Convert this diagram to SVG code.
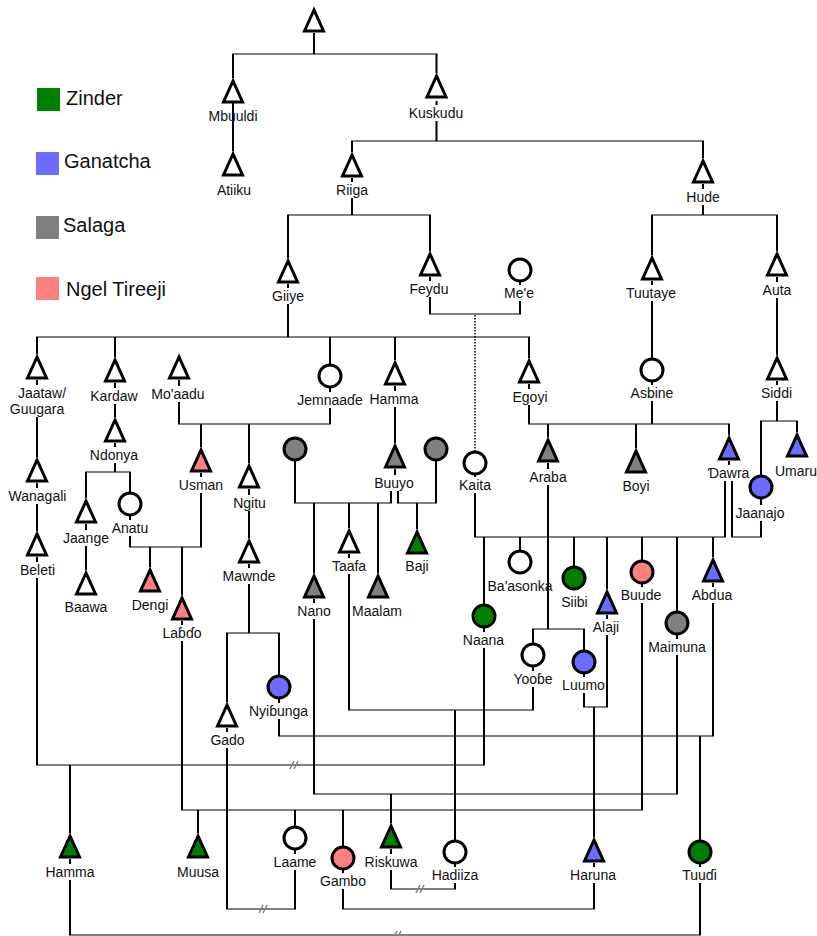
<svg xmlns="http://www.w3.org/2000/svg" xmlns:xlink="http://www.w3.org/1999/xlink" width="817" height="936" viewBox="0 0 817 936">
<style>
.w{fill:#fff;stroke:#000;stroke-width:3}
.gr{fill:#008000;stroke:#000;stroke-width:3}
.bl{fill:#6b6bff;stroke:#000;stroke-width:3}
.sl{fill:#808080;stroke:#000;stroke-width:3}
.pk{fill:#ff8080;stroke:#000;stroke-width:3}
text{font-family:"Liberation Sans",Arial,sans-serif;font-size:14px;fill:#111;text-anchor:middle}
.lg{font-size:20px;text-anchor:start}
.v{fill:none;stroke:#000;stroke-width:2}
.h{fill:none;stroke:#808080;stroke-width:2;stroke-linecap:square}
.d{fill:none;stroke:#000;stroke-width:1.5;stroke-dasharray:1.5 1.5}
.hs{fill:none;stroke:#808080;stroke-width:1.5}
</style>
<defs>
<polygon id="t" points="0,3 -9.5,24 9.5,24"/>
<path id="hash" d="M-6,4L-2,-4M-2,4L2,-4"/>
</defs>
<rect width="817" height="936" fill="#fff"/>
<g id="legend">
<rect x="37" y="88" width="23" height="23" fill="#008000"/><text class="lg" x="66" y="105">Zinder</text>
<rect x="36" y="152" width="23" height="23" fill="#6b6bff"/><text class="lg" x="64" y="168">Ganatcha</text>
<rect x="36" y="216" width="23" height="23" fill="#808080"/><text class="lg" x="63" y="232">Salaga</text>
<rect x="36" y="277" width="23" height="23" fill="#ff8080"/><text class="lg" x="66" y="296">Ngel Tireeji</text>
</g>
<g id="connectors">
<path class="h" d="M233 54H436.5M352 141H703M288 215H430M652 215H777M37 337H529M430 314H520M86 472H130M130 547H201M179 424H330M227 633H279M227 909H295M182 810H642M279 736H713M70 935H700M37 765H484M295 503H391M398 503H436M349 710H533M314 794H677M391 889H455M343 909H594M584 707H607M475 537H725M732 537H761M529 424H729M533 629H584M761 421H797"/>
<path class="v" d="M314 33V54M233 54V78M436.5 54V73M233 103V151M436.5 101V105M436.5 121V141M352 141V152M703 141V158M352 178V182M352 198V215M288 215V258M430 215V251M703 184V189M703 205V215M652 215V255M777 215V251M288 284V288M288 304V337M37 337V354M115 337V357M330 337V365M395 337V360M529 337V358M430 277V281M430 297V314M520 281.5V285M520 301V314M652 281V285M652 301V359M777 277V282M777 298V355M37 380V385M37 417V457M37 483V488M37 504V531M37 557V562M37 578V765M115 383V388M115 404V417M115 443V447M115 463V472M86 472V498M130 472V493M86 524V530M86 546V570M130 515.5V520M130 536V547M201 473V477M201 493V547M150 547V567M182 547V595M179 380V386M179 402V424M330 387.5V392M330 408V424M201 424V447M249 424V463M249 489V495M249 511V538M249 564V568M249 584V633M227 633V702M279 633V676M227 728V732M227 748V909M295 849.5V854M295 870V909M182 621V625M182 641V810M198 810V833M295 810V827M343 810V847M642 583.5V587M642 603V810M279 698.5V703M279 719V736M713 583V587M713 603V736M700 736V841M700 863.5V867M700 883V935M70 765V833M70 859V864M70 880V935M484 627.5V632M484 648V765M395 386V391M395 407V443M395 469V475M391 491V503M398 491V503M295 460.5V503M436 460.5V503M314 503V573M349 503V528M378 503V573M417 503V529M349 554V558M349 574V710M533 666.5V671M533 687V710M455 710V841M314 599V603M314 619V794M677 634.5V639M677 655V794M391 794V823M391 849V854M391 870V889M455 863.5V867M455 883V889M343 869.5V873M343 889V909M594 863V867M594 883V909M594 707V837M584 673.5V677M584 693V707M607 615V619M607 635V707M475 474.5V477M475 493V537M729 461V465M725 481V537M732 481V537M484 537V605M520 537V551M574 537V567M607 537V589M642 537V561M677 537V612M713 537V557M529 384V389M529 405V424M652 381.5V385M652 401V424M548 424V437M636 424V448M729 424V435M548 463V469M548 485V629M533 629V644M584 629V651M761 498.5V505M761 521V537M777 381V385M777 401V421M761 421V476M797 421V432"/>
<path class="d" d="M475 315V451"/>
<use href="#hash" class="hs" x="296" y="765"/>
<use href="#hash" class="hs" x="265" y="909"/>
<use href="#hash" class="hs" x="422" y="889"/>
<use href="#hash" class="hs" x="399" y="935"/>
</g>
<g id="n-root"><use href="#t" class="w" x="314" y="7"/></g>
<g id="n-mbuuldi"><use href="#t" class="w" x="233" y="78"/><text x="233" y="121">Mbuuldi</text></g>
<g id="n-atiiku"><use href="#t" class="w" x="233" y="151"/><text x="234" y="195">Atiiku</text></g>
<g id="n-kuskudu"><use href="#t" class="w" x="436.5" y="73"/><text x="436" y="118">Kuskudu</text></g>
<g id="n-riiga"><use href="#t" class="w" x="352" y="152"/><text x="352" y="195">Riiga</text></g>
<g id="n-hude"><use href="#t" class="w" x="703" y="158"/><text x="703" y="202">Hude</text></g>
<g id="n-giiye"><use href="#t" class="w" x="288" y="258"/><text x="288" y="301">Giiye</text></g>
<g id="n-feydu"><use href="#t" class="w" x="430" y="251"/><text x="429" y="294">Feydu</text></g>
<g id="n-mee"><circle class="w" cx="520" cy="270" r="11"/><text x="519" y="298">Me'e</text></g>
<g id="n-tuutaye"><use href="#t" class="w" x="652" y="255"/><text x="651" y="298">Tuutaye</text></g>
<g id="n-auta"><use href="#t" class="w" x="777" y="251"/><text x="777" y="295">Auta</text></g>
<g id="n-jaataw"><use href="#t" class="w" x="37" y="354"/><text x="42" y="398">Jaataw/</text><text x="37" y="414">Guugara</text></g>
<g id="n-kardaw"><use href="#t" class="w" x="115" y="357"/><text x="114" y="401">Kardaw</text></g>
<g id="n-moaadu"><use href="#t" class="w" x="179" y="354"/><text x="178" y="399">Mo'aadu</text></g>
<g id="n-jemnaade"><circle class="w" cx="330" cy="376" r="11"/><text x="330" y="405">Jemnaaɗe</text></g>
<g id="n-hamma1"><use href="#t" class="w" x="395" y="360"/><text x="394" y="404">Hamma</text></g>
<g id="n-egoyi"><use href="#t" class="w" x="529" y="358"/><text x="530" y="402">Egoyi</text></g>
<g id="n-asbine"><circle class="w" cx="652" cy="370" r="11"/><text x="652" y="398">Asbine</text></g>
<g id="n-siddi"><use href="#t" class="w" x="777" y="355"/><text x="776.5" y="398">Siddi</text></g>
<g id="n-wanagali"><use href="#t" class="w" x="37" y="457"/><text x="37.5" y="501">Wanagali</text></g>
<g id="n-beleti"><use href="#t" class="w" x="37" y="531"/><text x="37.5" y="575">Beleti</text></g>
<g id="n-ndonya"><use href="#t" class="w" x="115" y="417"/><text x="114" y="460">Ndonya</text></g>
<g id="n-jaange"><use href="#t" class="w" x="86" y="498"/><text x="86" y="543">Jaange</text></g>
<g id="n-baawa"><use href="#t" class="w" x="86" y="570"/><text x="86" y="612">Baawa</text></g>
<g id="n-anatu"><circle class="w" cx="130" cy="504" r="11"/><text x="130" y="533">Anatu</text></g>
<g id="n-usman"><use href="#t" class="pk" x="201" y="447"/><text x="201" y="490">Usman</text></g>
<g id="n-ngitu"><use href="#t" class="w" x="249" y="463"/><text x="249.5" y="508">Ngitu</text></g>
<g id="n-mawnde"><use href="#t" class="w" x="249" y="538"/><text x="249" y="581">Mawnde</text></g>
<g id="n-dengi"><use href="#t" class="pk" x="150" y="567"/><text x="150" y="610">Dengi</text></g>
<g id="n-labdo"><use href="#t" class="pk" x="182" y="595"/><text x="182" y="638">Laɓɗo</text></g>
<g id="n-gado"><use href="#t" class="w" x="227" y="702"/><text x="227.5" y="745">Gado</text></g>
<g id="n-nyibunga"><circle class="bl" cx="279" cy="687" r="11"/><text x="278.5" y="716">Nyiɓunga</text></g>
<g id="n-buuyo"><use href="#t" class="sl" x="395" y="443"/><text x="394" y="488">Buuyo</text></g>
<g id="n-wife1"><circle class="sl" cx="295" cy="449" r="11"/></g>
<g id="n-wife2"><circle class="sl" cx="436" cy="449" r="11"/></g>
<g id="n-taafa"><use href="#t" class="w" x="349" y="528"/><text x="349" y="571">Taafa</text></g>
<g id="n-nano"><use href="#t" class="sl" x="314" y="573"/><text x="314" y="616">Nano</text></g>
<g id="n-maalam"><use href="#t" class="sl" x="378" y="573"/><text x="377" y="616">Maalam</text></g>
<g id="n-baji"><use href="#t" class="gr" x="417" y="529"/><text x="417" y="571">Baji</text></g>
<g id="n-kaita"><circle class="w" cx="475" cy="463" r="11"/><text x="475" y="490">Kaita</text></g>
<g id="n-araba"><use href="#t" class="sl" x="548" y="437"/><text x="548" y="482">Araba</text></g>
<g id="n-boyi"><use href="#t" class="sl" x="636" y="448"/><text x="636" y="491">Boyi</text></g>
<g id="n-dawra"><use href="#t" class="bl" x="729" y="435"/><text x="728.5" y="478">Ɗawra</text></g>
<g id="n-jaanajo"><circle class="bl" cx="761" cy="487" r="11"/><text x="760" y="518">Jaanajo</text></g>
<g id="n-umaru"><use href="#t" class="bl" x="797" y="432"/><text x="796" y="476">Umaru</text></g>
<g id="n-naana"><circle class="gr" cx="484" cy="616" r="11"/><text x="483.5" y="645">Naana</text></g>
<g id="n-baasonka"><circle class="w" cx="520" cy="562" r="11"/><text x="520" y="591">Ba'asonka</text></g>
<g id="n-siibi"><circle class="gr" cx="574" cy="578" r="11"/><text x="574.5" y="607">Siibi</text></g>
<g id="n-alaji"><use href="#t" class="bl" x="607" y="589"/><text x="606" y="632">Alaji</text></g>
<g id="n-buude"><circle class="pk" cx="642" cy="572" r="11"/><text x="641" y="600">Buude</text></g>
<g id="n-maimuna"><circle class="sl" cx="677" cy="623" r="11"/><text x="677" y="652">Maimuna</text></g>
<g id="n-abdua"><use href="#t" class="bl" x="713" y="557"/><text x="712" y="600">Abdua</text></g>
<g id="n-yoobe"><circle class="w" cx="533" cy="655" r="11"/><text x="533" y="684">Yooɓe</text></g>
<g id="n-luumo"><circle class="bl" cx="584" cy="662" r="11"/><text x="583.5" y="690">Luumo</text></g>
<g id="n-hamma2"><use href="#t" class="gr" x="70" y="833"/><text x="70" y="877">Hamma</text></g>
<g id="n-muusa"><use href="#t" class="gr" x="198" y="833"/><text x="198" y="877">Muusa</text></g>
<g id="n-laame"><circle class="w" cx="295" cy="838" r="11"/><text x="295" y="867">Laame</text></g>
<g id="n-gambo"><circle class="pk" cx="343" cy="858" r="11"/><text x="343" y="886">Gambo</text></g>
<g id="n-riskuwa"><use href="#t" class="gr" x="391" y="823"/><text x="391" y="867">Riskuwa</text></g>
<g id="n-hadiiza"><circle class="w" cx="455" cy="852" r="11"/><text x="455" y="880">Hadiiza</text></g>
<g id="n-haruna"><use href="#t" class="bl" x="594" y="837"/><text x="593" y="880">Haruna</text></g>
<g id="n-tuudi"><circle class="gr" cx="700" cy="852" r="11"/><text x="699.5" y="880">Tuuɗi</text></g>
</svg>
